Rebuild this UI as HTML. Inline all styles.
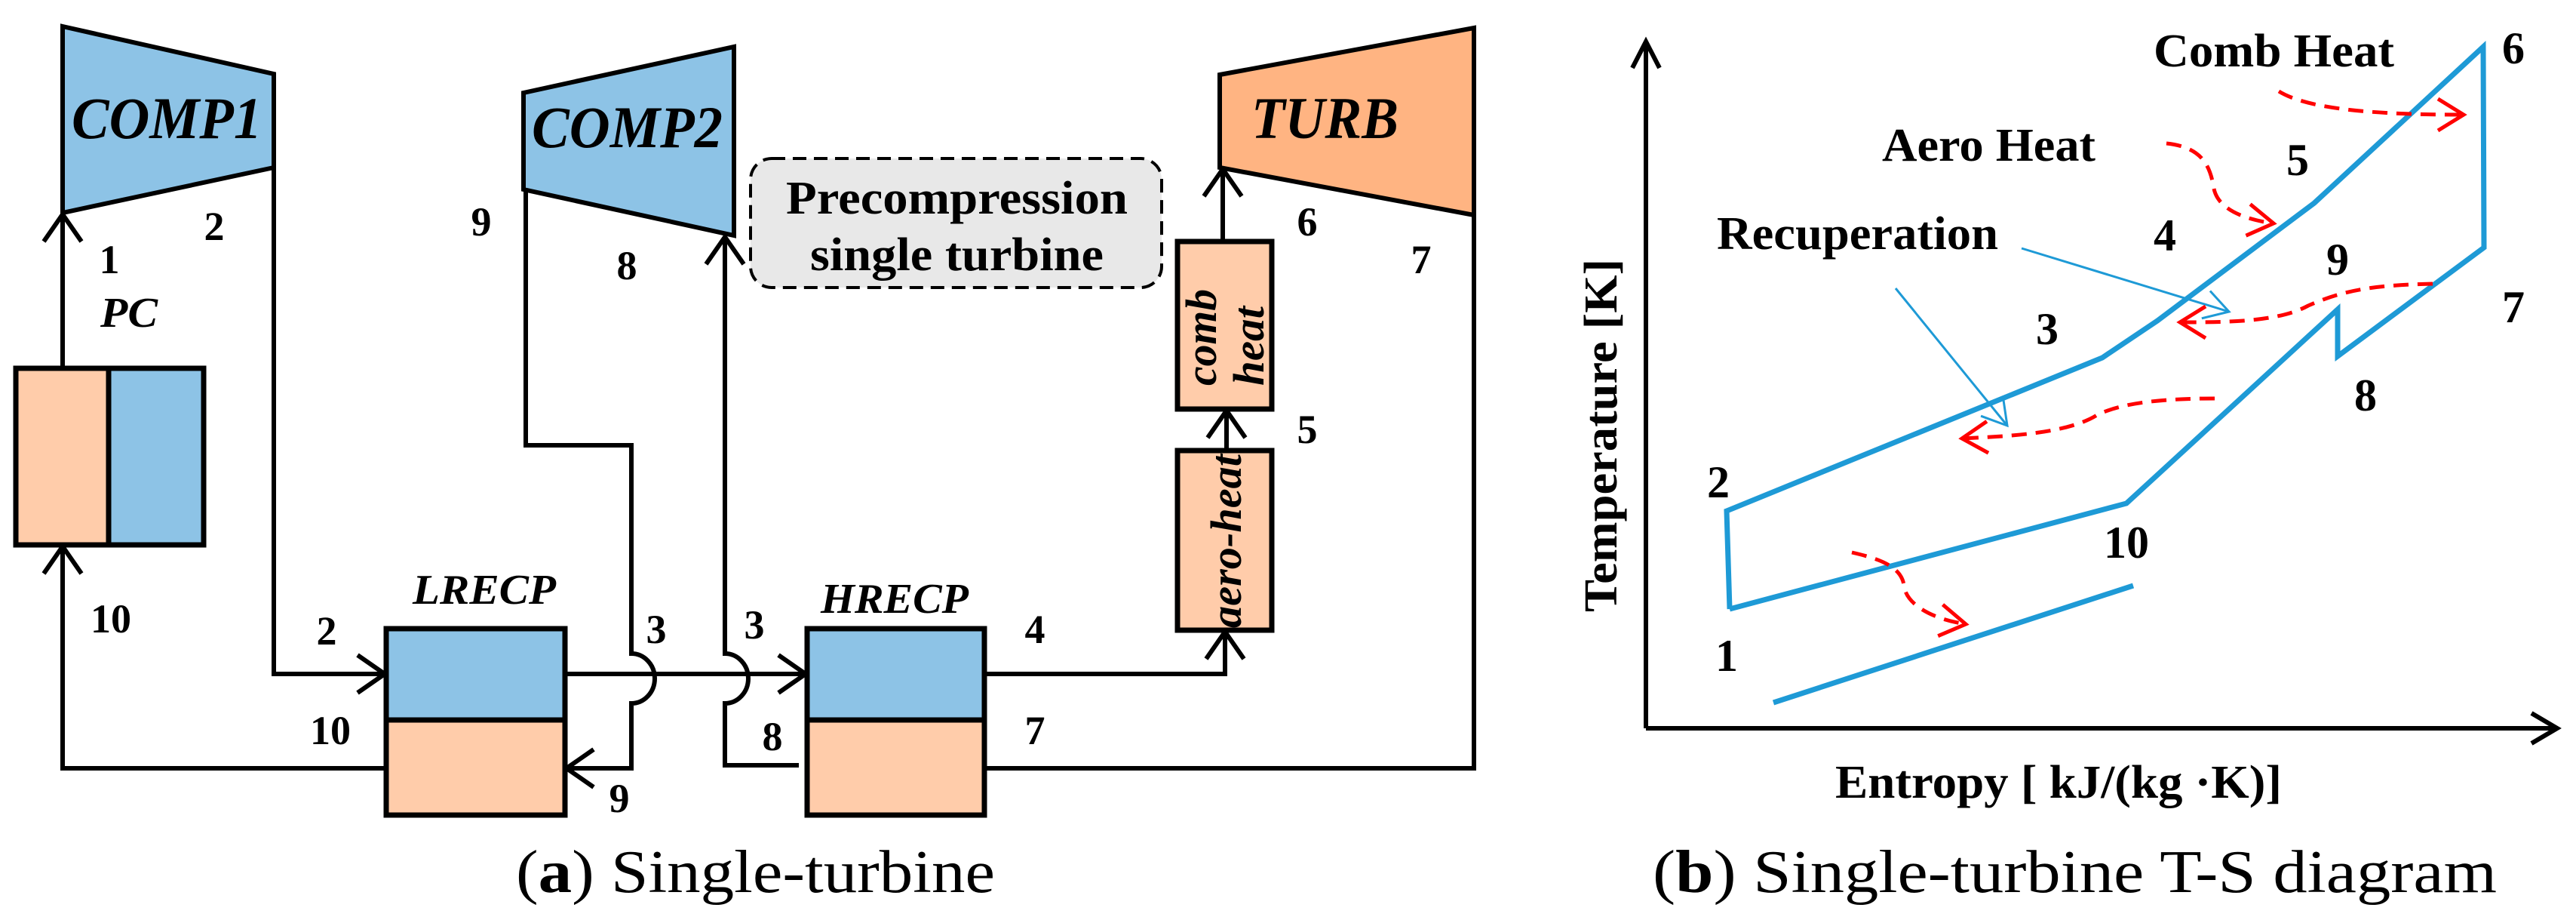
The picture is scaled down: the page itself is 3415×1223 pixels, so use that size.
<!DOCTYPE html>
<html><head><meta charset="utf-8"><style>
html,body{margin:0;padding:0;background:#fff;}
svg{display:block;}
text{font-family:"Liberation Serif",serif;}
.b{font-weight:bold;}
.bi{font-weight:bold;font-style:italic;}
</style></head><body>
<svg width="3415" height="1223" viewBox="0 0 3415 1223" xmlns="http://www.w3.org/2000/svg">
<defs>
<marker id="ah" markerWidth="14" markerHeight="14" refX="12" refY="7" orient="auto" markerUnits="userSpaceOnUse" viewBox="0 0 14 14" overflow="visible">
<path d="M-24,-18 L12,7 L-24,32" fill="none" stroke="#000" stroke-width="6"/>
</marker>
<marker id="bh" markerWidth="14" markerHeight="14" refX="12" refY="7" orient="auto" markerUnits="userSpaceOnUse" viewBox="0 0 14 14" overflow="visible">
<path d="M-20,-12 L12,7 L-20,26" fill="none" stroke="#1E9AD6" stroke-width="3"/>
</marker>
<marker id="rh" markerWidth="14" markerHeight="14" refX="12" refY="7" orient="auto" markerUnits="userSpaceOnUse" viewBox="0 0 14 14" overflow="visible">
<path d="M-22,-14 L12,7 L-22,28" fill="none" stroke="#f00" stroke-width="5"/>
</marker>
</defs>

<!-- ===== (a) ===== -->
<g stroke="#000" stroke-width="6" fill="none">
<path d="M83,488 L83,284" marker-end="url(#ah)"/>
<path d="M363,222 L363,893 L510,893" marker-end="url(#ah)"/>
<path d="M512,1018 L83,1018 L83,724" marker-end="url(#ah)"/>
<path d="M697,251 L697,590 L837,590 L837,866 A31,33 0 0 1 837,932 L837,1018 L751,1018" marker-end="url(#ah)"/>
<path d="M749,893 L1068,893" marker-end="url(#ah)"/>
<path d="M1059,1014 L961,1014 L961,932 A31,33 0 0 0 961,866 L961,314" marker-end="url(#ah)"/>
<path d="M1305,893 L1624,893 L1624,837" marker-end="url(#ah)"/>
<path d="M1626,597 L1626,544" marker-end="url(#ah)"/>
<path d="M1621,320 L1621,224" marker-end="url(#ah)"/>
<path d="M1954,285 L1954,1018 L1305,1018"/>
</g>

<polygon points="83,35 363,98 363,222 83,282" fill="#8DC3E6" stroke="#000" stroke-width="6"/>
<polygon points="694,123 973,62 973,312 694,251" fill="#8DC3E6" stroke="#000" stroke-width="6"/>
<polygon points="1617,99 1954,37 1954,285 1617,222" fill="#FFB482" stroke="#000" stroke-width="6"/>
<text x="95" y="183" class="bi" font-size="78" textLength="252" lengthAdjust="spacingAndGlyphs">COMP1</text>
<text x="705" y="195" class="bi" font-size="78" textLength="253" lengthAdjust="spacingAndGlyphs">COMP2</text>
<text x="1659" y="183" class="bi" font-size="78" textLength="195" lengthAdjust="spacingAndGlyphs">TURB</text>

<rect x="21" y="488" width="123" height="234" fill="#FFCCAA" stroke="#000" stroke-width="7"/>
<rect x="144" y="488" width="126" height="234" fill="#8DC3E6" stroke="#000" stroke-width="7"/>
<rect x="512" y="833" width="237" height="121" fill="#8DC3E6" stroke="#000" stroke-width="7"/>
<rect x="512" y="954" width="237" height="126" fill="#FFCCAA" stroke="#000" stroke-width="7"/>
<rect x="1070" y="833" width="235" height="121" fill="#8DC3E6" stroke="#000" stroke-width="7"/>
<rect x="1070" y="954" width="235" height="126" fill="#FFCCAA" stroke="#000" stroke-width="7"/>
<rect x="1561" y="320" width="125" height="222" fill="#FFCCAA" stroke="#000" stroke-width="7"/>
<rect x="1561" y="597" width="125" height="238" fill="#FFCCAA" stroke="#000" stroke-width="7"/>
<path d="M1626,597 L1626,548" stroke="#000" stroke-width="6"/>
<text transform="translate(1612,511) rotate(-90)" class="bi" font-size="58" textLength="128" lengthAdjust="spacingAndGlyphs">comb</text>
<text transform="translate(1675,511) rotate(-90)" class="bi" font-size="58" textLength="105" lengthAdjust="spacingAndGlyphs">heat</text>
<text transform="translate(1645,832) rotate(-90)" class="bi" font-size="58" textLength="230" lengthAdjust="spacingAndGlyphs">aero-heat</text>

<rect x="995" y="210" width="545" height="171" rx="28" fill="#E8E8E8" stroke="#000" stroke-width="4" stroke-dasharray="18,10"/>
<text x="1042" y="283" class="b" font-size="62" textLength="453" lengthAdjust="spacingAndGlyphs">Precompression</text>
<text x="1074" y="358" class="b" font-size="62" textLength="389" lengthAdjust="spacingAndGlyphs">single turbine</text>

<g class="b" font-size="54" text-anchor="middle">
<text x="284" y="318">2</text>
<text x="145" y="362">1</text>
<text x="147" y="838">10</text>
<text x="433" y="854">2</text>
<text x="438" y="986">10</text>
<text x="821" y="1076">9</text>
<text x="638" y="312">9</text>
<text x="831" y="370">8</text>
<text x="870" y="852">3</text>
<text x="1000" y="846">3</text>
<text x="1024" y="994">8</text>
<text x="1372" y="852">4</text>
<text x="1372" y="986">7</text>
<text x="1733" y="587">5</text>
<text x="1733" y="312">6</text>
<text x="1884" y="362">7</text>
</g>
<text x="133" y="433" class="bi" font-size="56" textLength="76" lengthAdjust="spacingAndGlyphs">PC</text>
<text x="547" y="800" class="bi" font-size="56" textLength="190" lengthAdjust="spacingAndGlyphs">LRECP</text>
<text x="1088" y="812" class="bi" font-size="56" textLength="196" lengthAdjust="spacingAndGlyphs">HRECP</text>

<text x="684" y="1182" font-size="80" textLength="635" lengthAdjust="spacingAndGlyphs">(<tspan font-weight="bold">a</tspan>) Single-turbine</text>

<!-- ===== (b) ===== -->
<g stroke="#000" stroke-width="6" fill="none">
<path d="M2182,965 L2182,55"/>
<path d="M2164,90 L2182,55 L2200,90"/>
<path d="M2182,965 L3388,965"/>
<path d="M3356,945 L3390,965 L3356,985"/>
</g>
<g stroke="#1E9AD6" stroke-width="7" fill="none" stroke-linejoin="miter">
<path d="M2293,807 L2289,677 L2787,474 L2860,425 L3068,269 L3292,62 L3293,328 L3099,472 L3099,410 L2819,667 L2293,807"/>
<path d="M2351,931 L2828,776"/>
</g>
<g stroke="#1E9AD6" stroke-width="3" fill="none">
<path d="M2680,329 L2955,413" marker-end="url(#bh)"/>
<path d="M2513,382 L2661,564" marker-end="url(#bh)"/>
</g>
<g stroke="#f00" stroke-width="5" fill="none" stroke-dasharray="20,12">
<path d="M3021,121 C3060,145 3150,152 3266,152" marker-end="url(#rh)"/>
<path d="M2872,190 C2920,195 2930,220 2935,250 C2940,275 2970,290 3014,296" marker-end="url(#rh)"/>
<path d="M3225,376 C3150,378 3110,383 3060,405 C3020,427 2950,427 2890,427" marker-end="url(#rh)"/>
<path d="M2936,528 C2860,528 2810,535 2780,550 C2740,575 2660,578 2601,581" marker-end="url(#rh)"/>
<path d="M2455,732 C2490,740 2520,750 2524,775 C2526,800 2560,820 2606,827" marker-end="url(#rh)"/>
</g>

<g class="b" font-size="62">
<text x="2855" y="88" textLength="319" lengthAdjust="spacingAndGlyphs">Comb Heat</text>
<text x="2495" y="213" textLength="283" lengthAdjust="spacingAndGlyphs">Aero Heat</text>
<text x="2276" y="330" textLength="373" lengthAdjust="spacingAndGlyphs">Recuperation</text>
<text x="2433" y="1057" textLength="592" lengthAdjust="spacingAndGlyphs">Entropy [ kJ/(kg ·K)]</text>
<text transform="translate(2143,811) rotate(-90)" textLength="468" lengthAdjust="spacingAndGlyphs">Temperature [K]</text>
</g>
<g class="b" font-size="60" text-anchor="middle">
<text x="3332" y="84">6</text>
<text x="3046" y="232">5</text>
<text x="2870" y="332">4</text>
<text x="2714" y="456">3</text>
<text x="3099" y="364">9</text>
<text x="3332" y="427">7</text>
<text x="3136" y="544">8</text>
<text x="2278" y="659">2</text>
<text x="2819" y="739">10</text>
<text x="2289" y="889">1</text>
</g>

<text x="2191" y="1182" font-size="80" textLength="1119" lengthAdjust="spacingAndGlyphs">(<tspan font-weight="bold">b</tspan>) Single-turbine T-S diagram</text>
</svg>
</body></html>
